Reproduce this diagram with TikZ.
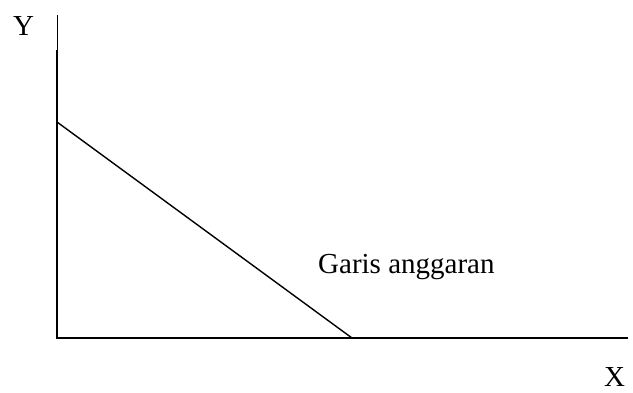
\documentclass[tikz,border=0pt]{standalone}
\usepackage{fontspec}
\setmainfont{Liberation Serif}
\usepackage{tikz}

\begin{document}
\begin{tikzpicture}[x=1pt, y=-1pt,
    lbl/.style={font=\fontsize{29}{34}\selectfont, inner sep=0pt, anchor=base west},
    axis/.style={line width=1.4pt}]
    \useasboundingbox (0,0) rectangle (633,392);

    % axes
    \coordinate (ytop) at (57,15);
    \coordinate (ybreak) at (57,50);
    \coordinate (O) at (57,338);
    \coordinate (xend) at (628,338);
    \draw[line width=0.6pt] (ytop) -- (ybreak);
    \draw[axis] (ybreak) -- (O) -- (xend);

    % budget line
    \coordinate (A) at (57,122);
    \coordinate (B) at (352,338);
    \draw[axis] (A) -- (B);

    % labels
    \node[lbl] (ylab) at (13,35) {Y};
    \node[lbl] (xlab) at (604,386) {X};
    \node[lbl] (garis) at (318,273) {Garis anggaran};
\end{tikzpicture}
\end{document}
